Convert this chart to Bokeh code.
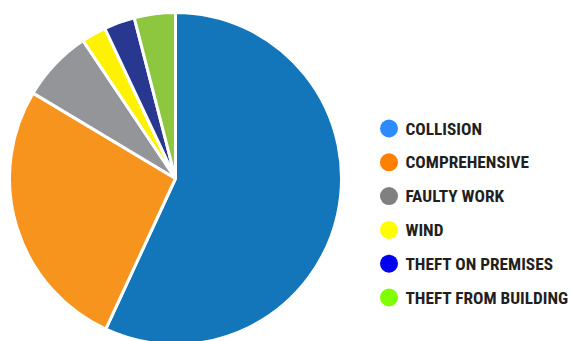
import numpy as np
from bokeh.plotting import figure
from bokeh.models import Range1d, ColumnDataSource
from bokeh.core.properties import value
from bokeh.embed import file_html
from bokeh.resources import INLINE

categories = ["COLLISION", "COMPREHENSIVE", "FAULTY WORK", "WIND", "THEFT ON PREMISES", "THEFT FROM BUILDING"]
values = [56.9, 26.7, 7.0, 2.4, 3.0, 4.0]
slice_colors = ["#1375BA", "#F7941E", "#939598", "#FFF200", "#283891", "#8DC63F"]
legend_colors = ["#2E8BFF", "#FF7F00", "#808080", "#FFFF00", "#0000EE", "#7FFF00"]

W, H = 573, 341
p = figure(width=W, height=H, output_backend="svg", toolbar_location=None,
           x_range=Range1d(0, W), y_range=Range1d(0, H), min_border=0)
p.axis.visible = False
p.grid.visible = False
p.outline_line_color = None
p.background_fill_color = "white"
p.border_fill_color = "white"

vals = np.array(values, dtype=float)
frac = vals / vals.sum()
cum = np.concatenate([[0], np.cumsum(frac)])
start = np.pi / 2 - 2 * np.pi * cum[:-1]
end = np.pi / 2 - 2 * np.pi * cum[1:]
src = ColumnDataSource(dict(start=start, end=end, color=slice_colors))
cx, cy, r = 175, H - 178, 166
p.wedge(x=cx, y=cy, radius=r, start_angle="start", end_angle="end", direction="clock",
        fill_color="color", line_color="white", line_width=3, source=src)

ly = H - (128 + np.arange(len(categories)) * 33.8)
lsrc = ColumnDataSource(dict(x=[388.5] * len(categories), tx=[405] * len(categories), y=ly,
                             c=legend_colors, t=categories))
p.scatter(x="x", y="y", size=18, marker="circle", fill_color="c", line_color=None, source=lsrc)
p.text(x="tx", y="y", text="t", source=lsrc, text_font=value("Roboto Condensed"),
       text_font_style="bold", text_font_size="17.3px", text_color="#231F20",
       text_baseline="middle", text_align="left")

open("out.html", "w").write(file_html(p, INLINE))
